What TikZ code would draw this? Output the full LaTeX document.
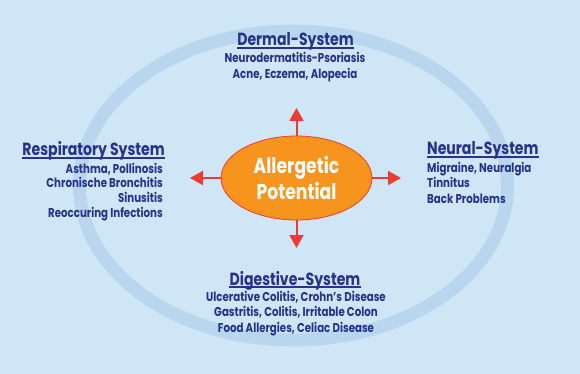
\documentclass[tikz,border=0pt]{standalone}
\usepackage{fontspec}
\setmainfont{Poppins}[FakeStretch=0.8]
\usetikzlibrary{arrows.meta,shapes.geometric}
\definecolor{bgblue}{HTML}{CFE6F7}
\definecolor{ringblue}{HTML}{BAD6EF}
\definecolor{navy}{HTML}{26338A}
\definecolor{orangefill}{HTML}{F7941D}
\definecolor{redline}{HTML}{EE3B33}
\tikzset{
  head/.style={inner sep=0pt, anchor=base, text=navy, font=\bfseries\fontsize{17.6}{20}\selectfont},
  body/.style={inner sep=0pt, anchor=base, text=navy, font=\bfseries\fontsize{12.8}{15}\selectfont},
  uline/.style={draw=navy, line width=1.3pt},
  ring/.style={draw=ringblue, line width=13pt},
  core/.style={ellipse, fill=orangefill, draw=redline, line width=0.8pt, minimum width=151pt, minimum height=84pt, inner sep=0pt, text=white, align=center, font=\bfseries\fontsize{21.5}{26}\selectfont},
  arr/.style={draw=redline, line width=2pt, -{Triangle[width=14pt,length=13pt]}}
}
\begin{document}
\begin{tikzpicture}[x=1pt,y=-1pt]
\useasboundingbox (0,0) rectangle (580,374);
\fill[bgblue] (0,0) rectangle (580,374);
\draw[ring] (293.5,185.5) ellipse [x radius=214, y radius=154.5];

\node[core] (c) at (296.5,178) {Allergetic\\Potential};

\coordinate (tu) at (296.5,108);
\coordinate (td) at (296.5,248);
\coordinate (tl) at (190,178);
\coordinate (tr) at (401,178);
\draw[arr] (c.north) -- (tu);
\draw[arr] (c.south) -- (td);
\draw[arr] (c.west) -- (tl);
\draw[arr] (c.east) -- (tr);

% Dermal
\node[head] (dh) at (295.5,46) {Dermal-System};
\draw[uline] ([yshift=-2pt]dh.base west) -- ([yshift=-2pt]dh.base east);
\node[body] (d1) at (295,63) {Neurodermatitis-Psoriasis};
\node[body] (d2) at (295,79) {Acne, Eczema, Alopecia};

% Respiratory
\node[head, anchor=base east] (rh) at (165,156) {Respiratory System};
\draw[uline] ([yshift=-2pt]rh.base west) -- ([yshift=-2pt]rh.base east);
\node[body, anchor=base east] (r1) at (163,173) {Asthma, Pollinosis};
\node[body, anchor=base east] (r2) at (163,187.5) {Chronische Bronchitis};
\node[body, anchor=base east] (r3) at (163,202) {Sinusitis};
\node[body, anchor=base east] (r4) at (163,217) {Reoccuring Infections};

% Neural
\node[head, anchor=base west] (nh) at (427,155) {Neural-System};
\draw[uline] ([yshift=-2pt]nh.base west) -- ([yshift=-2pt]nh.base east);
\node[body, anchor=base west] (n1) at (427,172) {Migraine, Neuralgia};
\node[body, anchor=base west] (n2) at (427,187.5) {Tinnitus};
\node[body, anchor=base west] (n3) at (427,203) {Back Problems};

% Digestive
\node[head] (gh) at (295,285) {Digestive-System};
\draw[uline] ([yshift=-2pt]gh.base west) -- ([yshift=-2pt]gh.base east);
\node[body] (g1) at (296,301) {Ulcerative Colitis, Crohn’s Disease};
\node[body] (g2) at (296,316.5) {Gastritis, Colitis, Irritable Colon};
\node[body] (g3) at (296,332) {Food Allergies, Celiac Disease};
\end{tikzpicture}
\end{document}
